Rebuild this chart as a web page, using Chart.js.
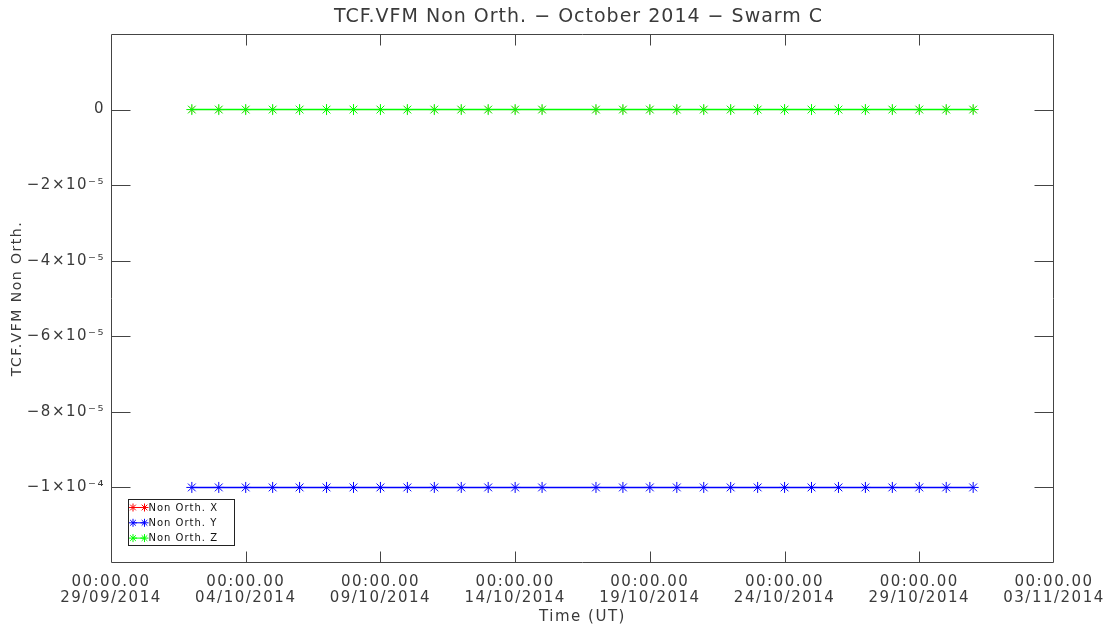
<!DOCTYPE html>
<html>
<head>
<meta charset="utf-8">
<title>TCF.VFM Non Orth. - October 2014 - Swarm C</title>
<script src="https://cdn.jsdelivr.net/npm/chart.js@4/dist/chart.umd.min.js"></script>
<style>
  html, body { margin: 0; padding: 0; background: #ffffff; }
  #wrap { width: 1120px; height: 627px; }
</style>
</head>
<body>
<div id="wrap"><canvas id="chart" width="1120" height="627"></canvas></div>
<script>
// Daily samples (00:00 UT); 16/10/2014 has no record
const sampleDates = [
  '02/10/2014', '03/10/2014', '04/10/2014', '05/10/2014', '06/10/2014', '07/10/2014', '08/10/2014',
  '09/10/2014', '10/10/2014', '11/10/2014', '12/10/2014', '13/10/2014', '14/10/2014', '15/10/2014',
  '17/10/2014', '18/10/2014', '19/10/2014', '20/10/2014', '21/10/2014', '22/10/2014', '23/10/2014',
  '24/10/2014', '25/10/2014', '26/10/2014', '27/10/2014', '28/10/2014', '29/10/2014', '30/10/2014',
  '31/10/2014'
];

const nonOrthX = [
  0, 0, 0, 0, 0, 0, 0, 0, 0, 0, 0, 0, 0, 0,
  0, 0, 0, 0, 0, 0, 0, 0, 0, 0, 0, 0, 0, 0, 0
];
const nonOrthY = [
  -1e-4, -1e-4, -1e-4, -1e-4, -1e-4, -1e-4, -1e-4, -1e-4, -1e-4, -1e-4, -1e-4, -1e-4, -1e-4, -1e-4,
  -1e-4, -1e-4, -1e-4, -1e-4, -1e-4, -1e-4, -1e-4, -1e-4, -1e-4, -1e-4, -1e-4, -1e-4, -1e-4, -1e-4, -1e-4
];
const nonOrthZ = [
  0, 0, 0, 0, 0, 0, 0, 0, 0, 0, 0, 0, 0, 0,
  0, 0, 0, 0, 0, 0, 0, 0, 0, 0, 0, 0, 0, 0, 0
];

// Axis ticks
const axisStartDate = '29/09/2014';
const axisEndDate = '03/11/2014';
const xTickDates = ['29/09/2014', '04/10/2014', '09/10/2014', '14/10/2014', '19/10/2014', '24/10/2014', '29/10/2014', '03/11/2014'];
const xTickTime = '00:00.00';
const yTickValues = [2e-5, 0, -2e-5, -4e-5, -6e-5, -8e-5, -1e-4, -1.2e-4];
const yTickLabels = ['', '0', '\u22122\u00d710\u207b\u2075', '\u22124\u00d710\u207b\u2075', '\u22126\u00d710\u207b\u2075', '\u22128\u00d710\u207b\u2075', '\u22121\u00d710\u207b\u2074', ''];
const yMin = -1.2e-4;
const yMax = 2e-5;

const chartTitle = 'TCF.VFM Non Orth. \u2212 October 2014 \u2212 Swarm C';

const DAY_MS = 86400000;
function parseDay(s) {
  const [d, m, y] = s.split('/').map(Number);
  return Date.UTC(y, m - 1, d) / DAY_MS;
}
const day0 = parseDay(axisStartDate);
const dayOffset = s => parseDay(s) - day0;

const toPoints = values => values.map((v, i) => ({ x: dayOffset(sampleDates[i]), y: v }));

const FONT = 'DejaVu Sans';
const INK = '#3a3a3a';

// Hershey-like wide glyph spacing
const textSpacing = {
  id: 'textSpacing',
  beforeLayout(chart) { chart.ctx.letterSpacing = '1.5px'; },
  beforeDraw(chart) { chart.ctx.letterSpacing = '1.5px'; }
};

// Box frame with inward ticks on all four sides
const frame = {
  id: 'frame',
  afterDatasetsDraw(chart) {
    const { ctx, chartArea: a, scales } = chart;
    const L = Math.round(a.left) + 0.5, R = Math.round(a.right) - 0.5;
    const T = Math.round(a.top) + 0.5, B = Math.round(a.bottom) - 0.5;
    ctx.save();
    ctx.strokeStyle = '#444444';
    ctx.lineWidth = 1;
    ctx.beginPath();
    ctx.rect(L, T, R - L, B - T);
    scales.x.ticks.forEach(t => {
      const px = Math.round(scales.x.getPixelForValue(t.value)) + 0.5;
      if (px <= L + 1 || px >= R - 1) return;
      ctx.moveTo(px, B); ctx.lineTo(px, B - 11);
      ctx.moveTo(px, T); ctx.lineTo(px, T + 11);
    });
    scales.y.ticks.forEach(t => {
      const py = Math.round(scales.y.getPixelForValue(t.value)) + 0.5;
      if (py <= T + 1 || py >= B - 1) return;
      ctx.moveTo(L, py); ctx.lineTo(L + 19, py);
      ctx.moveTo(R, py); ctx.lineTo(R - 19, py);
    });
    ctx.stroke();
    ctx.restore();
  }
};

// Title centred over the plot box
const plotTitle = {
  id: 'plotTitle',
  afterDraw(chart) {
    const { ctx, chartArea: a } = chart;
    ctx.save();
    ctx.font = '19px ' + FONT;
    ctx.letterSpacing = '1px';
    ctx.fillStyle = INK;
    ctx.textAlign = 'center';
    ctx.textBaseline = 'middle';
    ctx.fillText(chartTitle, (a.left + a.right) / 2 - 4, 17);
    ctx.restore();
  }
};

// Boxed key in the lower-left corner of the plot
const keyBox = {
  id: 'keyBox',
  afterDraw(chart) {
    const { ctx, chartArea: a } = chart;
    const x0 = Math.round(a.left) + 17.5, x1 = Math.round(a.left) + 123.5;
    const y0 = Math.round(a.bottom) - 63.5, y1 = Math.round(a.bottom) - 17.5;
    ctx.save();
    ctx.fillStyle = '#ffffff';
    ctx.fillRect(x0, y0, x1 - x0, y1 - y0);
    ctx.strokeStyle = '#222222';
    ctx.lineWidth = 1;
    ctx.strokeRect(x0, y0, x1 - x0, y1 - y0);
    ctx.font = '10px ' + FONT;
    ctx.letterSpacing = '1px';
    ctx.textBaseline = 'middle';
    ctx.textAlign = 'left';
    chart.data.datasets.forEach((ds, i) => {
      const y = y0 + 8 + i * 15.3;
      const ax = x0 + 4.5, bx = x0 + 16;
      ctx.strokeStyle = ds.borderColor;
      ctx.lineWidth = 1;
      ctx.beginPath(); ctx.moveTo(ax, y); ctx.lineTo(bx, y); ctx.stroke();
      const style = { pointStyle: 'star', radius: 4, borderWidth: 1 };
      Chart.helpers.drawPoint(ctx, style, ax, y);
      Chart.helpers.drawPoint(ctx, style, bx, y);
      ctx.fillStyle = '#111111';
      ctx.fillText(ds.label, x0 + 20, y + 0.5);
    });
    ctx.restore();
  }
};

function series(label, color, values, order, width) {
  return {
    label,
    data: toPoints(values),
    borderColor: color,
    backgroundColor: color,
    borderWidth: width,
    pointStyle: 'star',
    pointRadius: width < 1 ? 4.5 : 5.5,
    pointBorderWidth: width < 1 ? 0.5 : 1,
    pointBorderColor: color,
    fill: false,
    tension: 0,
    order
  };
}

new Chart(document.getElementById('chart'), {
  type: 'line',
  data: {
    datasets: [
      series('Non Orth. X', '#ff0000', nonOrthX, 3, 0.5),
      series('Non Orth. Y', '#0000ff', nonOrthY, 2, 1.5),
      series('Non Orth. Z', '#00ff00', nonOrthZ, 1, 1.5)
    ]
  },
  options: {
    responsive: false,
    animation: false,
    devicePixelRatio: 1,
    layout: { padding: { left: 0, right: 66, top: 34, bottom: 0 } },
    plugins: {
      legend: { display: false },
      tooltip: { enabled: false },
      title: { display: false }
    },
    scales: {
      x: {
        type: 'linear',
        min: 0,
        max: dayOffset(axisEndDate),
        grid: { display: false, drawTicks: false },
        border: { display: false },
        afterBuildTicks(scale) {
          scale.ticks = xTickDates.map(d => ({ value: dayOffset(d) }));
        },
        afterFit(scale) { scale.height = 64; },
        ticks: {
          autoSkip: false,
          maxRotation: 0,
          padding: 11,
          color: INK,
          font: { family: FONT, size: 15, lineHeight: '16px' },
          callback: (v, i) => [xTickTime, xTickDates[i]]
        },
        title: {
          display: true,
          text: 'Time (UT)',
          color: INK,
          font: { family: FONT, size: 15, lineHeight: '12px' },
          padding: { top: 0, bottom: 4 }
        }
      },
      y: {
        type: 'linear',
        min: yMin,
        max: yMax,
        grid: { display: false, drawTicks: false },
        border: { display: false },
        afterBuildTicks(scale) {
          scale.ticks = yTickValues.map(v => ({ value: v }));
        },
        afterFit(scale) { scale.width = 111; },
        ticks: {
          autoSkip: false,
          padding: 6,
          color: INK,
          font: { family: FONT, size: 15 },
          callback: (v, i) => yTickLabels[i]
        },
        title: {
          display: true,
          text: 'TCF.VFM Non Orth.',
          color: INK,
          font: { family: FONT, size: 14, lineHeight: '18px' },
          padding: { top: 8, bottom: 0 }
        }
      }
    }
  },
  plugins: [textSpacing, frame, plotTitle, keyBox]
});
</script>
</body>
</html>
